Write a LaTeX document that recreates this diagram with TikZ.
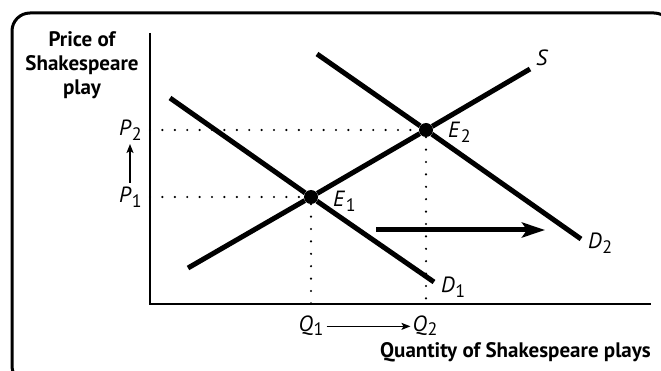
\documentclass[tikz,border=0pt]{standalone}
\usepackage{fontspec}
\setmainfont{PT Sans}
\usetikzlibrary{arrows.meta, positioning, calc}

\newcommand{\varlbl}[2]{\textit{#1}\kern0.5pt\raisebox{-0.4ex}{\upshape\fontsize{18}{18}\selectfont #2}}

\tikzset{
  curve/.style={line width=5pt},
  guide/.style={line width=2.4pt, line cap=round, dash pattern=on 0pt off 12.4pt},
  axis/.style={line width=1.3pt},
  eqdot/.style={circle, fill=black, minimum size=14pt, inner sep=0pt},
  lbl/.style={font=\fontsize{22}{22}\selectfont, inner sep=0pt},
  title/.style={font=\fontsize{21}{24}\selectfont\bfseries, inner sep=0pt, align=center},
  smallarrow/.style={line width=1.3pt, -{Stealth[length=9pt, width=7pt, inset=2pt]}},
}

\begin{document}
\begin{tikzpicture}[x=1pt, y=-1pt]

    \useasboundingbox (0,0) rectangle (661,371);
    \clip (0,0) rectangle (661,371);

    % ============================================================
    % FRAME
    % ============================================================
    \draw[line width=3pt, rounded corners=18pt] (12,13) rectangle (672,384);

    % ============================================================
    % AXES
    % ============================================================
    \coordinate (O) at (150,304);
    \coordinate (ytop) at (150,33);
    \coordinate (xend) at (651,304);
    \draw[axis] (ytop) -- (O) -- (xend);

    \node[title] (ytitle) at (82,65) {Price of\\Shakespeare\\play};
    \node[title, anchor=base east] (xtitle) at (651,357)
        {Quantity of Shakespeare plays};

    % ============================================================
    % EQUILIBRIA
    % ============================================================
    \node[eqdot] (E1) at (311,197) {};
    \node[eqdot] (E2) at (426,130) {};
    \node[lbl, anchor=base west] (lE1) at (333,207) {\varlbl{E}{1}};
    \node[lbl, anchor=base west] (lE2) at (448,138) {\varlbl{E}{2}};

    % ============================================================
    % SUPPLY AND DEMAND
    % ============================================================
    \coordinate (S0) at (188,268);
    \coordinate (S1) at (530,69);
    \draw[curve] (S0) -- (E1) -- (E2) -- (S1);
    \node[lbl, anchor=base west] (lS) at (536,66) {\textit{S}};

    \coordinate (D1a) at (170,98);
    \coordinate (D1b) at (434,282);
    \draw[curve] (D1a) -- (E1) -- (D1b);
    \node[lbl, anchor=base west] (lD1) at (441,293) {\varlbl{D}{1}};

    \coordinate (D2a) at (317,54);
    \coordinate (D2b) at (581,239);
    \draw[curve] (D2a) -- (E2) -- (D2b);
    \node[lbl, anchor=base west] (lD2) at (588,249) {\varlbl{D}{2}};

    % demand shift
    \coordinate (sh0) at (376,230);
    \coordinate (sh1) at (545,230);
    \draw[curve, -{Stealth[length=23pt, width=15pt, inset=5pt]}] (sh0) -- (sh1);

    % ============================================================
    % PRICE AND QUANTITY GUIDES
    % ============================================================
    \coordinate (yP1) at (150,197);
    \coordinate (yP2) at (150,130);
    \coordinate (xQ1) at (311,304);
    \coordinate (xQ2) at (426,304);
    \draw[guide] (yP1) -- (E1) -- (xQ1);
    \draw[guide] (yP2) -- (E2) -- (xQ2);

    \node[lbl, anchor=base east] (P1) at (142,203) {\varlbl{P}{1}};
    \node[lbl, anchor=base east] (P2) at (142,136) {\varlbl{P}{2}};
    \coordinate (pa0) at (130,183);
    \coordinate (pa1) at (130,144);
    \draw[smallarrow] (pa0) -- (pa1);

    \node[lbl, anchor=base] (Q1) at (311,331) {\varlbl{Q}{1}};
    \node[lbl, anchor=base] (Q2) at (425,331) {\varlbl{Q}{2}};
    \draw[smallarrow] (Q1.east) ++(3pt,-1pt) -- ([xshift=-2pt, yshift=-1pt]Q2.west);

\end{tikzpicture}
\end{document}
